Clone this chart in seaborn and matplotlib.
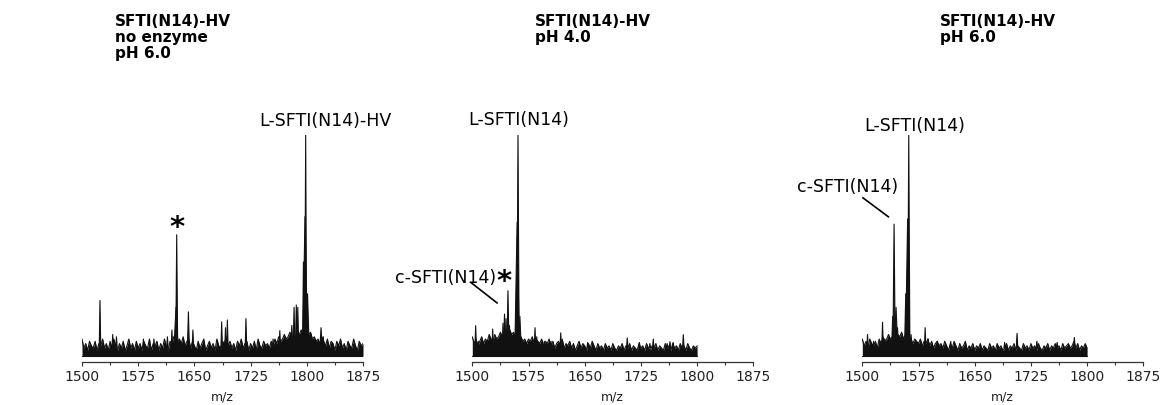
import numpy as np
import pandas as pd
import matplotlib
matplotlib.use("Agg")
import matplotlib.pyplot as plt
import seaborn as sns

# ---------------- data ----------------
titles = ["SFTI(N14)-HV\nno enzyme\npH 6.0", "SFTI(N14)-HV\npH 4.0", "SFTI(N14)-HV\npH 6.0"]
x_ticks = [1500, 1575, 1650, 1725, 1800, 1875]
x_minor = [1537.5, 1612.5, 1687.5, 1762.5, 1837.5]

# noise band top (relative intensity, %) every 2.5 m/z
p1_noise_range = (1500, 1875)
p1_noise = [10, 6, 8, 5, 9, 7, 6, 9, 5, 8,
            7, 10, 6, 8, 5, 9, 6, 10, 7, 5,
            8, 6, 9, 5, 7, 10, 6, 8, 5, 9,
            6, 8, 5, 9, 7, 6, 10, 5, 8, 7,
            9, 5, 8, 6, 10, 7, 5, 9, 8, 11,
            12, 9, 10, 8, 11, 7, 9, 10, 6, 9,
            7, 5, 9, 6, 8, 10, 5, 7, 9, 6,
            8, 5, 10, 7, 6, 9, 8, 11, 7, 9,
            6, 8, 5, 9, 7, 10, 6, 8, 9, 5,
            8, 6, 9, 5, 10, 7, 6, 9, 7, 8,
            6, 9, 7, 10, 8, 11, 9, 10, 12, 10,
            11, 13, 10, 12, 11, 13, 12, 14, 13, 16,
            15, 12, 13, 10, 11, 9, 10, 8, 11, 9,
            7, 10, 6, 9, 8, 5, 9, 7, 10, 6,
            8, 5, 9, 7, 6, 10, 7, 5, 9, 7,
            8]
p2_noise_range = (1500, 1800)
p2_noise = [11, 8, 10, 7, 9, 11, 8, 10, 9, 12,
            10, 9, 12, 10, 11, 13, 11, 12, 14, 13,
            14, 12, 13, 11, 12, 10, 11, 9, 10, 8,
            10, 9, 11, 8, 10, 9, 8, 10, 7, 9,
            8, 10, 7, 9, 6, 8, 9, 7, 10, 6,
            8, 7, 9, 6, 8, 5, 7, 9, 6, 8,
            7, 5, 8, 6, 9, 7, 5, 8, 6, 7,
            5, 8, 6, 7, 5, 8, 6, 5, 7, 6,
            8, 5, 7, 6, 8, 5, 7, 6, 5, 8,
            6, 7, 5, 8, 6, 5, 7, 6, 8, 5,
            7, 6, 5, 8, 6, 7, 5, 8, 6, 7,
            5, 8, 6, 7, 5, 8, 6, 5, 7, 6,
            7]
p3_noise_range = (1500, 1800)
p3_noise = [10, 7, 9, 6, 10, 8, 7, 9, 6, 10,
            8, 11, 9, 10, 12, 10, 11, 13, 10, 12,
            11, 13, 10, 12, 9, 11, 10, 8, 10, 9,
            8, 10, 7, 9, 8, 10, 7, 9, 6, 8,
            9, 7, 8, 6, 9, 7, 5, 8, 6, 9,
            7, 5, 8, 6, 7, 9, 5, 7, 6, 8,
            5, 7, 6, 8, 5, 7, 6, 5, 8, 6,
            7, 5, 8, 6, 7, 5, 6, 8, 5, 7,
            6, 8, 5, 7, 6, 5, 8, 6, 7, 5,
            8, 6, 7, 5, 8, 6, 5, 7, 6, 8,
            5, 7, 6, 8, 6, 7, 5, 8, 6, 7,
            8, 6, 7, 9, 6, 8, 5, 7, 6, 8,
            6]

# peaks: m/z, relative intensity (%), half width (m/z)
p1_peak_mz = [1524, 1541, 1546, 1582, 1596, 1614, 1620, 1625.5, 1626.4, 1642, 1648,
              1686.4, 1691.5, 1694, 1718.8, 1755, 1764, 1780, 1783, 1786, 1788,
              1795.5, 1797.6, 1798.5, 1801, 1806, 1819, 1822]
p1_peak_int = [27, 12, 11, 10, 10, 11, 14, 24, 56, 22, 14,
               17.6, 15, 18.4, 19, 10, 13.7, 16, 24, 25, 24,
               44, 64, 100, 30, 12, 15, 11]
p1_peak_w = [1, 1, 1, 1, 1, 1, 1, 2.8, 1.3, 1.3, 1,
             1, 1, 1, 1, 1, 1, 1.5, 1.2, 1.2, 1.2,
             1.2, 3.0, 1.3, 2.2, 1, 1.5, 1]

p2_peak_mz = [1504.5, 1508, 1520, 1527.2, 1531, 1535, 1541, 1543, 1545, 1547.6, 1549.5,
              1558, 1559.8, 1561, 1563.5, 1583.7, 1586, 1596, 1605, 1618, 1654,
              1706.8, 1723, 1737, 1741.5, 1760, 1763.8, 1768, 1781.6]
p2_peak_int = [15.9, 9, 9, 14.4, 11, 10, 17, 21, 19, 31.3, 16,
               15, 61.6, 100, 20, 15, 11, 9, 9, 12.7, 8.5,
               10.5, 8.5, 8, 10, 8, 8.8, 8.5, 11.9]
p2_peak_w = [1, 1, 1, 1, 1, 1, 1.2, 1.4, 1.2, 1.4, 2.2,
             1.5, 3.0, 1.5, 1.8, 1, 1, 1, 1, 1, 1,
             1, 1, 1, 1, 1, 1, 1, 1]

p3_peak_mz = [1507, 1515, 1527, 1530, 1540.5, 1542.4, 1545, 1547, 1558, 1560.5, 1562,
              1565, 1583.9, 1588, 1600, 1618, 1690, 1706.5, 1733, 1760, 1783]
p3_peak_int = [12, 9, 17.4, 10, 20, 60.7, 24, 15, 30, 63, 100,
               12, 15, 10, 9, 9, 8.5, 12.5, 9, 8.5, 10.7]
p3_peak_w = [1, 1, 1, 1, 1.3, 1.5, 2.4, 1.4, 1.6, 2.8, 1.5,
             1.6, 1, 1, 1, 1, 1, 1, 1, 1, 1]

band_bottom = 2.5
peak_base = 6

# annotations: (text, x m/z, y %, ha, size, weight)
p1_labels = [("L-SFTI(N14)-HV", 1824.5, 106.7, "center", 12.5, "normal"),
             ("*", 1626.6, 59.5, "center", 21, "bold")]
p2_labels = [("L-SFTI(N14)", 1562.0, 107.0, "center", 12.5, "normal"),
             ("c-SFTI(N14)", 1531.6, 37.2, "right", 12.5, "normal"),
             ("*", 1542.3, 35.5, "center", 21, "bold")]
p3_labels = [("L-SFTI(N14)", 1569.7, 104.4, "center", 12.5, "normal"),
             ("c-SFTI(N14)", 1548.1, 77.4, "right", 12.5, "normal")]
p2_leader = ([1497.9, 1533.9], [35.0, 25.7])
p3_leader = ([1500.0, 1535.7], [72.5, 63.7])

# ---------------- drawing ----------------
sns.set_theme(style="ticks")
plt.rcParams["font.family"] = ["DejaVu Sans"]

W, H = 1161, 406
fig = plt.figure(figsize=(W / 100, H / 100), dpi=100)
fig.patch.set_facecolor("white")

ax_left_px = [82, 472.3, 862.3]
ax_w_px = 281
ax_bottom_px = 362.7
ax_top_px = 136
axes = [fig.add_axes([l / W, (H - ax_bottom_px) / H, ax_w_px / W, (ax_bottom_px - ax_top_px) / H])
        for l in ax_left_px]

panels = [
    (p1_noise_range, p1_noise, p1_peak_mz, p1_peak_int, p1_peak_w, p1_labels, None),
    (p2_noise_range, p2_noise, p2_peak_mz, p2_peak_int, p2_peak_w, p2_labels, p2_leader),
    (p3_noise_range, p3_noise, p3_peak_mz, p3_peak_int, p3_peak_w, p3_labels, p3_leader),
]

ink = "#111111"
for ax, (nrange, noise, pmz, pint, pw, labels, leader) in zip(axes, panels):
    nmz = np.linspace(nrange[0], nrange[1], len(noise))
    ndf = pd.DataFrame({"mz": nmz, "intensity": noise})
    ax.fill_between(ndf["mz"], band_bottom, ndf["intensity"], color=ink, lw=0)
    sns.lineplot(data=ndf, x="mz", y="intensity", estimator=None, sort=True,
                 color=ink, lw=0.8, ax=ax)
    ax.plot([nmz[0], nmz[-1]], [band_bottom, band_bottom], color=ink, lw=0.8)

    rows = []
    for i, (m, h, w) in enumerate(zip(pmz, pint, pw)):
        rows += [(i, m - w, peak_base), (i, m, h), (i, m + w, peak_base)]
    pdf = pd.DataFrame(rows, columns=["peak", "mz", "intensity"])
    for _, g in pdf.groupby("peak"):
        ax.fill(g["mz"], g["intensity"], color=ink, lw=0)
    sns.lineplot(data=pdf, x="mz", y="intensity", units="peak", estimator=None,
                 sort=False, color=ink, lw=0.8, ax=ax)

    for txt, x, y, ha, size, weight in labels:
        ax.text(x, y, txt, ha=ha, va="center", fontsize=size, fontweight=weight,
                color="black", clip_on=False)
    if leader is not None:
        ax.plot(leader[0], leader[1], color="black", lw=1.2, clip_on=False,
                solid_capstyle="butt")

    ax.set_xlim(1500, 1875)
    ax.set_ylim(0, 100)
    ax.set_xticks(x_ticks)
    ax.set_xticks(x_minor, minor=True)
    ax.set_xticklabels([str(t) for t in x_ticks])
    ax.set_yticks([])
    ax.set_ylabel("")
    ax.set_xlabel("m/z", fontsize=9, labelpad=5, color="#222222")
    for s in ["left", "right", "top"]:
        ax.spines[s].set_visible(False)
    ax.spines["bottom"].set_color("#333333")
    ax.spines["bottom"].set_linewidth(0.9)
    ax.tick_params(axis="x", which="major", direction="out", length=3.2, width=0.8,
                   color="#333333", labelsize=10, pad=2, labelcolor="#222222")
    ax.tick_params(axis="x", which="minor", direction="out", length=2, width=0.8,
                   color="#333333")
    ax.set_facecolor("none")
    legend = ax.get_legend()
    if legend is not None:
        legend.remove()

title_x_px = [115, 535, 940]
for tx, t in zip(title_x_px, titles):
    fig.text(tx / W, 1 - 14.5 / H, t, ha="left", va="top", fontsize=11,
             fontweight="bold", linespacing=1.08, color="black")

fig.savefig("out.png", dpi=100, facecolor="white")
